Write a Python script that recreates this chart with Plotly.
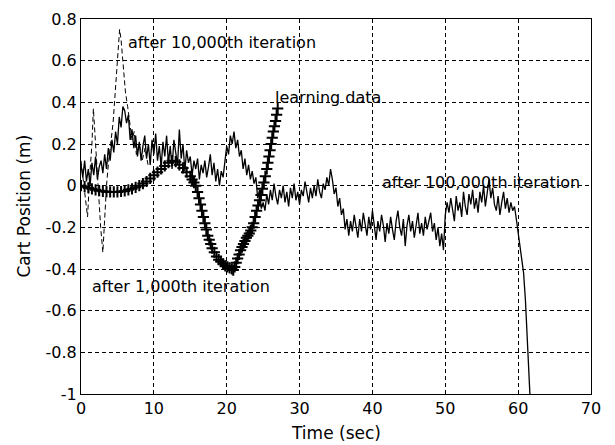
import plotly.graph_objects as go

# ---- data ----
x_ticks = [0, 10, 20, 30, 40, 50, 60, 70]
y_ticks = [-1, -0.8, -0.6, -0.4, -0.2, 0, 0.2, 0.4, 0.6, 0.8]
y_tick_labels = ["-1", "-0.8", "-0.6", "-0.4", "-0.2", "0", "0.2", "0.4", "0.6", "0.8"]

# after 100,000th iteration (sampled every 0.25 s)
t_100k_step = 0.25
pos_100k = [
    0.10, 0.04, 0.12, 0.02, 0.08, 0.00, 0.11, 0.05,
    0.14, 0.03, 0.09, 0.12, 0.06, 0.15, 0.08, 0.18,
    0.12, 0.22, 0.16, 0.26, 0.20, 0.33, 0.28, 0.38,
    0.36, 0.30, 0.34, 0.22, 0.27, 0.18, 0.24, 0.14,
    0.21, 0.12, 0.19, 0.24, 0.13, 0.20, 0.10, 0.22,
    0.15, 0.25, 0.12, 0.19, 0.09, 0.21, 0.14, 0.24,
    0.11, 0.19, 0.08, 0.22, 0.16, 0.10, 0.27, 0.13,
    0.20, 0.07, 0.17, 0.11, 0.14, 0.05, 0.12, 0.08,
    0.13, 0.03, 0.10, 0.06, 0.12, 0.04, 0.09, 0.15,
    0.05, 0.11, 0.02, 0.08, 0.00, 0.07, 0.04, 0.12,
    0.19, 0.15, 0.24, 0.20, 0.26, 0.18, 0.22, 0.14,
    0.17, 0.08, 0.13, 0.05, 0.10, 0.03, 0.07, 0.01,
    0.04, -0.06, -0.02, -0.11, -0.08, -0.12, -0.04, -0.09,
    -0.02, -0.07, 0.01, -0.05, -0.09, -0.02, -0.06, 0.00,
    -0.08, -0.03, -0.10, -0.01, -0.06, 0.01, -0.07, -0.03,
    -0.09, -0.02, -0.05, 0.02, -0.04, -0.08, -0.01, -0.06,
    0.00, -0.05, 0.03, -0.03, -0.06, 0.01, -0.02, 0.04,
    0.00, 0.08, 0.03, -0.04, -0.01, -0.10, -0.06, -0.14,
    -0.11, -0.21, -0.16, -0.24, -0.17, -0.22, -0.14, -0.20,
    -0.25, -0.16, -0.22, -0.13, -0.19, -0.24, -0.15, -0.21,
    -0.12, -0.20, -0.26, -0.17, -0.22, -0.14, -0.19, -0.27,
    -0.18, -0.23, -0.15, -0.21, -0.26, -0.17, -0.12, -0.20,
    -0.24, -0.16, -0.29, -0.19, -0.14, -0.22, -0.17, -0.25,
    -0.19, -0.13, -0.23, -0.18, -0.24, -0.15, -0.21, -0.17,
    -0.13, -0.22, -0.18, -0.26, -0.20, -0.29, -0.23, -0.31,
    -0.14, -0.08, -0.13, -0.06, -0.11, -0.17, -0.05, -0.12,
    -0.08, -0.15, -0.03, -0.10, -0.14, -0.04, -0.09, -0.02,
    -0.11, -0.06, -0.13, -0.03, -0.08, 0.00, -0.10, -0.04,
    0.03, -0.06, -0.01, -0.09, -0.12, -0.05, -0.14, -0.08,
    -0.03, -0.11, -0.06, -0.13, -0.08, -0.12, -0.10, -0.16,
    -0.22, -0.28, -0.35, -0.42, -0.55, -0.72, -0.93, -1.10,
]
t_100k = [i * t_100k_step for i in range(len(pos_100k))]

# after 10,000th iteration
t_10k = [0.0, 0.3, 0.6, 0.9, 1.2, 1.5, 1.7, 1.9, 2.1, 2.4, 2.7, 3.0, 3.2, 3.5,
         3.8, 4.1, 4.4, 4.7, 5.0, 5.3, 5.5, 5.8, 6.1, 6.4, 6.7, 7.0, 7.3, 7.6,
         8.0, 8.4, 8.8, 9.2]
pos_10k = [0.12, 0.02, -0.06, -0.15, 0.05, 0.20, 0.37, 0.26, 0.10, -0.05, -0.20,
           -0.32, -0.18, 0.00, 0.12, 0.20, 0.30, 0.45, 0.60, 0.75, 0.70, 0.55,
           0.45, 0.38, 0.30, 0.22, 0.26, 0.15, 0.20, 0.12, 0.18, 0.10]

# learning data
t_learn = [0, 0.5, 1, 1.5, 2, 2.5, 3, 3.5, 4, 4.5, 5, 5.5, 6, 6.5, 7, 7.5, 8, 8.5,
           9, 9.5, 10, 10.5, 11, 11.5, 12, 12.5, 13, 13.5, 14, 14.5, 15,
           15.25, 15.5, 15.75, 16.0, 16.2, 16.4, 16.6, 16.8, 17.0, 17.2, 17.4,
           17.6, 17.8, 18.0, 18.3, 18.6, 18.9, 19.2, 19.5, 19.8, 20.1, 20.4,
           20.7, 20.9, 21.1, 21.3, 21.5, 21.7, 21.9, 22.1, 22.3, 22.5, 22.7,
           22.9, 23.1, 23.3, 23.5, 23.7, 23.9, 24.1, 24.3, 24.5, 24.7, 24.9,
           25.1, 25.3, 25.5, 25.65, 25.8, 25.95, 26.1, 26.25, 26.4, 26.55,
           26.7, 26.85, 27.0]
pos_learn = [0.0, -0.005, -0.01, -0.015, -0.02, -0.024, -0.027, -0.029, -0.03,
             -0.03, -0.03, -0.028, -0.025, -0.02, -0.015, -0.008, 0.0, 0.01,
             0.02, 0.035, 0.05, 0.065, 0.08, 0.095, 0.11, 0.12, 0.115, 0.10,
             0.085, 0.065, 0.045,
             0.03, 0.015, 0.0, -0.03, -0.06, -0.09, -0.12, -0.15, -0.18, -0.21,
             -0.24, -0.26, -0.28, -0.30, -0.32, -0.34, -0.355, -0.365, -0.375,
             -0.385, -0.39, -0.395, -0.40, -0.405, -0.39, -0.37, -0.35, -0.33,
             -0.31, -0.295, -0.28, -0.265, -0.25, -0.24, -0.23, -0.215, -0.20,
             -0.18, -0.15, -0.12, -0.095, -0.07, -0.045, -0.015, 0.015, 0.045,
             0.08, 0.11, 0.14, 0.17, 0.20, 0.23, 0.26, 0.285, 0.31, 0.34, 0.37]

labels = [
    ("after 10,000th iteration", 6.2, 0.685),
    ("learning data", 26.4, 0.425),
    ("after 100,000th iteration", 41.0, 0.013),
    ("after 1,000th iteration", 1.2, -0.486),
]

FONT = "DejaVu Sans, Liberation Sans, sans-serif"

fig = go.Figure()
fig.add_trace(go.Scatter(x=t_100k, y=pos_100k, mode="lines",
                         line=dict(color="black", width=1.3), showlegend=False))
fig.add_trace(go.Scatter(x=t_10k, y=pos_10k, mode="lines",
                         line=dict(color="black", width=1, dash="5px,3px"),
                         showlegend=False))
fig.add_trace(go.Scatter(x=t_learn, y=pos_learn, mode="markers",
                         marker=dict(symbol="cross-thin", size=8, color="black",
                                     line=dict(color="black", width=2)),
                         showlegend=False))

for txt, x, y in labels:
    fig.add_annotation(x=x, y=y, text=txt, showarrow=False, xanchor="left",
                       yanchor="middle", font=dict(family=FONT, size=16, color="black"))

fig.add_annotation(x=0.5, y=0, xref="paper", yref="paper", yshift=-39,
                   text="Time (sec)", showarrow=False, yanchor="middle",
                   font=dict(family=FONT, size=17, color="black"))
fig.add_annotation(x=0, y=0.5, xref="paper", yref="paper", xshift=-58,
                   text="Cart Position (m)", textangle=-90, showarrow=False,
                   xanchor="center", font=dict(family=FONT, size=17, color="black"))

axis_common = dict(showline=True, linecolor="black", linewidth=1, mirror=True,
                   showgrid=True, gridcolor="black", gridwidth=1, griddash="4px,3px",
                   zeroline=False, ticks="inside", ticklen=4, tickcolor="black",
                   automargin=False,
                   tickfont=dict(family=FONT, size=16, color="black"))
fig.update_xaxes(range=[0, 70], tickvals=x_ticks, **axis_common)
fig.update_yaxes(range=[-1, 0.8], tickvals=y_ticks, ticktext=y_tick_labels, **axis_common)

# page body has an 8px default margin; compensate so the plot area lands where the reference has it
fig.update_layout(width=607, height=437, margin=dict(l=73, r=24, t=11, b=51),
                  plot_bgcolor="white", paper_bgcolor="white")
fig.write_html("out.html")
